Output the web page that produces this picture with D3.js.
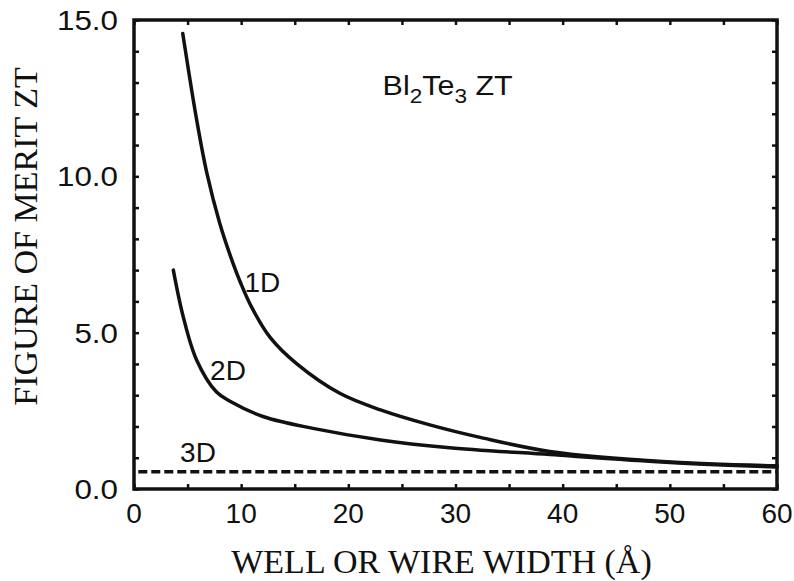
<!DOCTYPE html>
<html>
<head>
<meta charset="utf-8">
<script src="https://cdn.jsdelivr.net/npm/d3@7"></script>
<style>
  body { margin: 0; background: #fff; }
  .tick-label { font-family: "Liberation Sans", Arial, sans-serif; font-size: 28px; fill: #111; }
  .axis-title { font-family: "Liberation Serif", "Times New Roman", serif; font-size: 34px; fill: #111; }
  .curve { fill: none; stroke: #111; stroke-width: 3.5; stroke-linejoin: round; stroke-linecap: round; }
</style>
</head>
<body>
<script>
// well / wire width (Angstrom) and ZT
let width1D = [4.55, 5.85, 6.8, 8.0, 9.0, 10.0, 11.0, 12.7, 15.2, 19.2, 23.0, 27.6, 32.3, 38.8, 49.7, 60];
let zt1D    = [14.57, 11.8, 10.1, 8.5, 7.45, 6.55, 5.8, 4.85, 4.0, 3.06, 2.53, 2.05, 1.65, 1.2, 0.87, 0.74];

let width2D = [3.67, 4.6, 5.85, 7.7, 9.0, 12.1, 16.7, 23.0, 29.2, 38.8, 50, 60];
let zt2D    = [7.0, 5.5, 4.12, 3.1, 2.8, 2.31, 1.94, 1.57, 1.33, 1.1, 0.85, 0.7];

let width3D = [0.4, 60];
let zt3D    = [0.55, 0.55];

let xTicks = [0, 10, 20, 30, 40, 50, 60];
let yTicks = [0, 5, 10, 15];

function createChart(){
    let W = 794, H = 581;
    let margin = {top: 20, right: 17, bottom: 92, left: 134},
      width = W - margin.left - margin.right,
      height = H - margin.top - margin.bottom;

    let x = d3.scaleLinear().domain([0, 60]).range([0, width]);
    let y = d3.scaleLinear().domain([0, 15]).range([height, 0]);

    let svg = d3.select("body").append("svg")
      .attr("width", W)
      .attr("height", H)
      .append("g")
      .attr("transform", "translate(" + margin.left + "," + margin.top + ")");

    // inward ticks on all four sides
    let minorX = d3.range(0, 61, 5);
    let minorY = d3.range(0, 16, 1);

    svg.append("g")
      .attr("transform", "translate(0," + height + ")")
      .call(d3.axisBottom(x).tickValues(minorX).tickSize(-5).tickFormat(""))
      .call(g => g.select(".domain").remove());
    svg.append("g")
      .call(d3.axisTop(x).tickValues(minorX).tickSize(-5).tickFormat(""))
      .call(g => g.select(".domain").remove());
    svg.append("g")
      .call(d3.axisLeft(y).tickValues(minorY).tickSize(-5).tickFormat(""))
      .call(g => g.select(".domain").remove());
    svg.append("g")
      .attr("transform", "translate(" + width + ",0)")
      .call(d3.axisRight(y).tickValues(minorY).tickSize(-5).tickFormat(""))
      .call(g => g.select(".domain").remove());
    svg.selectAll(".tick line").attr("stroke", "#111").attr("stroke-width", 2.5);

    // frame
    svg.append("rect")
      .attr("x", 0).attr("y", 0)
      .attr("width", width).attr("height", height)
      .attr("fill", "none")
      .attr("stroke", "#111")
      .attr("stroke-width", 3.5);

    // tick labels
    svg.selectAll(".xlab")
      .data(xTicks).enter().append("text")
      .attr("class", "tick-label")
      .attr("x", d => x(d))
      .attr("y", height + 34)
      .attr("text-anchor", "middle")
      .text(d => d);

    svg.selectAll(".ylab")
      .data(yTicks).enter().append("text")
      .attr("class", "tick-label")
      .attr("x", -16)
      .attr("y", d => y(d) + 10)
      .attr("text-anchor", "end")
      .text(d => d.toFixed(1))
      .each(function(){
        // the scanned labels are a little wider than the font
        let w = this.getComputedTextLength();
        d3.select(this).attr("textLength", w * 1.12).attr("lengthAdjust", "spacingAndGlyphs");
      });

    // curves
    let line = d3.line()
      .x(d => x(d[0]))
      .y(d => y(d[1]))
      .curve(d3.curveCatmullRom.alpha(0.5));

    svg.append("path")
      .attr("class", "curve")
      .attr("d", line(d3.zip(width1D, zt1D)));
    svg.append("path")
      .attr("class", "curve")
      .attr("d", line(d3.zip(width2D, zt2D)));
    svg.append("path")
      .attr("class", "curve")
      .attr("stroke-dasharray", "9,4")
      .style("stroke-linecap", "butt")
      .attr("d", line(d3.zip(width3D, zt3D)));

    // curve labels
    svg.append("text").attr("class", "tick-label")
      .attr("x", x(10.3)).attr("y", y(6.3)).text("1D");
    svg.append("text").attr("class", "tick-label")
      .attr("x", x(7.1)).attr("y", y(3.5)).text("2D");
    svg.append("text").attr("class", "tick-label")
      .attr("x", x(4.3)).attr("y", y(0.85)).text("3D");

    // title inside plot
    let title = svg.append("text")
      .attr("class", "tick-label")
      .style("font-size", "27px")
      .attr("x", x(23.2))
      .attr("y", y(12.6));
    title.append("tspan").text("Bl");
    title.append("tspan").style("font-size", "20px").attr("dy", 8).text("2");
    title.append("tspan").attr("dy", -8).text("Te");
    title.append("tspan").style("font-size", "20px").attr("dy", 8).text("3");
    title.append("tspan").attr("dy", -8).text(" ZT");
    let tw = title.node().getComputedTextLength();
    title.attr("textLength", 130).attr("lengthAdjust", "spacingAndGlyphs");
    if (tw > 140) title.attr("textLength", null);

    // axis titles
    svg.append("text")
      .attr("class", "axis-title")
      .attr("x", width / 2 - 14)
      .attr("y", height + 84)
      .attr("text-anchor", "middle")
      .text("WELL OR WIRE WIDTH (Å)");

    svg.append("text")
      .attr("class", "axis-title")
      .attr("transform", "translate(" + (-97) + "," + (height / 2 - 18) + ") rotate(-90)")
      .attr("text-anchor", "middle")
      .text("FIGURE OF MERIT ZT");
}
createChart();
</script>
</body>
</html>
